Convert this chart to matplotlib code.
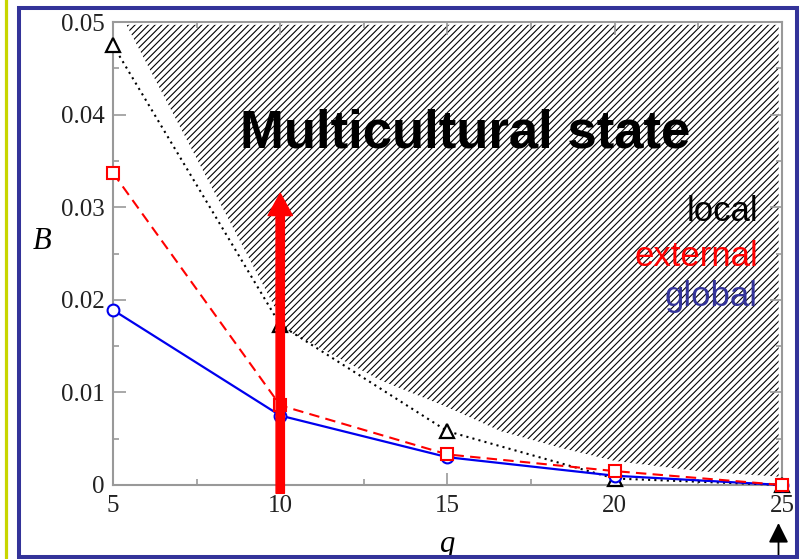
import matplotlib
matplotlib.use('Agg')
import matplotlib.pyplot as plt
from matplotlib.patches import Rectangle, FancyArrowPatch
from matplotlib.lines import Line2D
from matplotlib.ticker import FixedLocator, MultipleLocator, FixedFormatter

# data
q = [5, 10, 15, 20, 25]
B_local = [0.0475, 0.0173, 0.0058, 0.0007, 0.0]
B_external = [0.0337, 0.0086, 0.0033, 0.0015, 0.0]
B_global = [0.0189, 0.0075, 0.0030, 0.0010, 0.0]

# boundary of the multicultural region
border_q = [5.4, 10.2, 13.0, 15.0, 16.6, 18.4, 20.0, 22.5, 24.9]
border_B = [0.0497, 0.0167, 0.0113, 0.0084, 0.0058, 0.0040, 0.0026, 0.0015, 0.0009]
top_B = 0.0497

x_ticks = [5, 10, 15, 20, 25]
x_labels = ['5', '10', '15', '20', '25']
y_ticks = [0, 0.01, 0.02, 0.03, 0.04, 0.05]
y_labels = ['0', '0.01', '0.02', '0.03', '0.04', '0.05']

blue = '#0000ee'
red = '#ff0000'
frame_col = '#333399'
axis_col = '#999999'

plt.rcParams['hatch.linewidth'] = 0.8
plt.rcParams['hatch.color'] = 'black'

fig = plt.figure(figsize=(8.07, 5.59), dpi=100)
ax = fig.add_axes([0.140, 0.1324, 0.829, 0.8282])

# hatched region
ax.fill_between(border_q, border_B, [top_B] * len(border_B),
                facecolor='white', hatch='/////', edgecolor='black',
                linewidth=0, zorder=1)

ax.plot(q, B_local, linestyle=(0, (1, 2.0)), color='black', lw=1.5,
        marker='^', ms=10, mfc='white', mec='black', mew=1.6, zorder=3,
        clip_on=False)
ax.plot(q, B_global, linestyle='-', color=blue, lw=1.6,
        marker='o', ms=8.5, mfc='white', mec=blue, mew=1.5, zorder=4,
        clip_on=False)
ax.plot(q, B_external, linestyle=(0, (5, 3)), color=red, lw=1.5,
        marker='s', ms=8, mfc='white', mec=red, mew=1.5, zorder=5,
        clip_on=False)

# big red arrow at q = 10
ax.annotate('', xy=(10, 0.0315), xytext=(10, -0.0009),
            arrowprops=dict(arrowstyle='simple,head_length=1.6,head_width=1.75,tail_width=0.6',
                            color=red, shrinkA=0, shrinkB=0, mutation_scale=10),
            annotation_clip=False, zorder=6)

ax.text(15.52, 0.0365, 'Multicultural state', ha='center', va='baseline',
        fontsize=38, fontweight='bold', family='Liberation Sans', zorder=7)

ax.text(24.28, 0.0285, 'local', ha='right', va='baseline', color='black',
        fontsize=25, family='Liberation Sans', zorder=7)
ax.text(24.28, 0.02365, 'external', ha='right', va='baseline', color=red,
        fontsize=25, family='Liberation Sans', zorder=7)
ax.text(24.28, 0.0193, 'global', ha='right', va='baseline', color=frame_col,
        fontsize=25, family='Liberation Sans', zorder=7)

ax.set_xlim(5, 25)
ax.set_ylim(0, 0.05)
ax.xaxis.set_major_locator(FixedLocator(x_ticks))
ax.xaxis.set_major_formatter(FixedFormatter(x_labels))
ax.xaxis.set_minor_locator(MultipleLocator(2.5))
ax.yaxis.set_major_locator(FixedLocator(y_ticks))
ax.yaxis.set_major_formatter(FixedFormatter(y_labels))
ax.yaxis.set_minor_locator(MultipleLocator(0.005))

for s in ax.spines.values():
    s.set_color(axis_col)
    s.set_linewidth(1.5)
ax.tick_params(which='both', direction='in', top=True, right=True,
               color=axis_col, width=1.2)
ax.tick_params(which='major', length=9, labelsize=18, labelcolor='#222222')
ax.tick_params(which='minor', length=4.5)
ax.tick_params(axis='x', pad=7)
ax.tick_params(axis='y', pad=6)
for lab in ax.get_xticklabels() + ax.get_yticklabels():
    lab.set_family('Liberation Serif')

ax.set_xlabel('q', fontsize=22, family='Liberation Serif', style='italic')
ax.set_ylabel('B', fontsize=22, family='Liberation Serif', style='italic',
              rotation=0)
ax.yaxis.set_label_coords(-0.106, 0.494)
ax.xaxis.set_label_coords(0.5, -0.097)

# small black arrow below the last point
fig.add_artist(FancyArrowPatch(
    (778.5 / 807, 0.0), (778.5 / 807, 1 - 523 / 559),
    transform=fig.transFigure,
    arrowstyle='-|>,head_length=1.2,head_width=0.6',
    mutation_scale=10, color='black', lw=1.3, shrinkA=0, shrinkB=0))

# slide frame
fig.add_artist(Rectangle((18.5 / 807, 1 - 557 / 559), 778 / 807, 549 / 559,
                         transform=fig.transFigure, fill=False,
                         edgecolor=frame_col, linewidth=2.9, zorder=10))
fig.add_artist(Line2D([5.5 / 807, 5.5 / 807], [0, 1], transform=fig.transFigure,
                      color='#c8d600', linewidth=2.3, zorder=10))

fig.savefig('out.png', dpi=100)
